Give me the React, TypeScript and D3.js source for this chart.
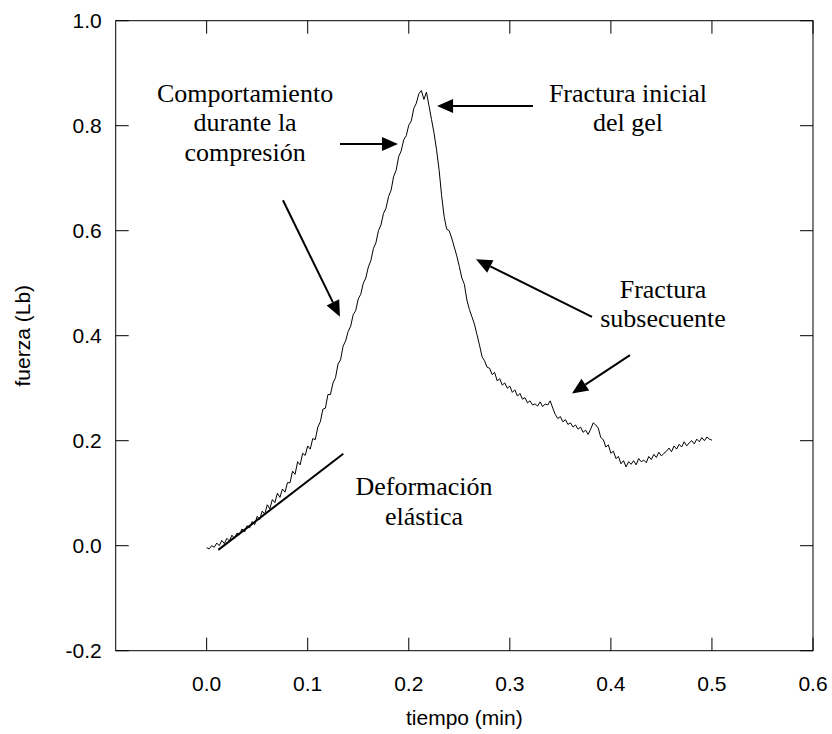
import React from "react";
import * as d3 from "d3";

// sampling grid of the recorded curve (min)
const timeStart = 0;
const timeStep = 0.0025;
// force readings (Lb), one per time step
const force = [
  -0.004, -0.006, 0.000, -0.003, 0.005, 0.000, 0.010, 0.004, 0.014, 0.009,
  0.020, 0.014, 0.024, 0.021, 0.032, 0.026, 0.038, 0.034, 0.046, 0.040,
  0.056, 0.050, 0.066, 0.060, 0.078, 0.070, 0.088, 0.082, 0.100, 0.092,
  0.108, 0.102, 0.120, 0.120, 0.142, 0.136, 0.160, 0.154, 0.176, 0.172,
  0.190, 0.184, 0.204, 0.202, 0.226, 0.236, 0.260, 0.262, 0.288, 0.288,
  0.310, 0.320, 0.346, 0.354, 0.380, 0.390, 0.408, 0.418, 0.440, 0.448,
  0.470, 0.479, 0.500, 0.510, 0.531, 0.543, 0.566, 0.577, 0.600, 0.611,
  0.633, 0.643, 0.665, 0.677, 0.703, 0.715, 0.741, 0.752, 0.773, 0.781,
  0.801, 0.809, 0.833, 0.843, 0.861, 0.867, 0.850, 0.864, 0.838, 0.812,
  0.786, 0.754, 0.716, 0.667, 0.627, 0.603, 0.600, 0.586, 0.569, 0.552,
  0.532, 0.510, 0.498, 0.468, 0.450, 0.436, 0.422, 0.402, 0.382, 0.360,
  0.352, 0.340, 0.338, 0.326, 0.330, 0.314, 0.318, 0.306, 0.310, 0.300,
  0.304, 0.292, 0.297, 0.285, 0.290, 0.279, 0.282, 0.272, 0.276, 0.268,
  0.270, 0.266, 0.274, 0.265, 0.270, 0.268, 0.276, 0.262, 0.250, 0.242,
  0.246, 0.236, 0.240, 0.231, 0.234, 0.226, 0.230, 0.222, 0.226, 0.216,
  0.220, 0.212, 0.222, 0.234, 0.230, 0.224, 0.206, 0.202, 0.188, 0.192,
  0.176, 0.180, 0.166, 0.170, 0.156, 0.162, 0.150, 0.160, 0.155, 0.162,
  0.154, 0.166, 0.160, 0.163, 0.158, 0.170, 0.164, 0.174, 0.168, 0.178,
  0.171, 0.176, 0.180, 0.186, 0.179, 0.190, 0.184, 0.193, 0.188, 0.198,
  0.190, 0.196, 0.200, 0.194, 0.203, 0.198, 0.206, 0.200, 0.207, 0.203,
  0.201,
];

const xTicks = [0.0, 0.1, 0.2, 0.3, 0.4, 0.5, 0.6];
const yTicks = [-0.2, 0.0, 0.2, 0.4, 0.6, 0.8, 1.0];
const xDomain = [-0.09, 0.6];
const yDomain = [-0.2, 1.0];
const xTitle = "tiempo (min)";
const yTitle = "fuerza (Lb)";

// annotations in data coordinates
const arrows = [
  { from: [0.1319, 0.765], to: [0.1893, 0.765] },
  { from: [0.0755, 0.658], to: [0.1319, 0.436] },
  { from: [0.3229, 0.8375], to: [0.228, 0.8375] },
  { from: [0.3813, 0.436], to: [0.2665, 0.5455] },
  { from: [0.4189, 0.363], to: [0.3615, 0.29] },
];
const elasticLine = [
  [0.0115, -0.008],
  [0.1352, 0.175],
];
const labels = [
  { at: [0.038, 0.846], lines: ["Comportamiento", "durante la", "compresión"] },
  { at: [0.4169, 0.846], lines: ["Fractura inicial", "del gel"] },
  { at: [0.4516, 0.472], lines: ["Fractura", "subsecuente"] },
  { at: [0.2151, 0.096], lines: ["Deformación", "elástica"] },
];

const W = 832;
const H = 734;
const M = { left: 115.7, right: 813, top: 20.7, bottom: 650.7 };

export default function App() {
  const x = d3.scaleLinear().domain(xDomain).range([M.left, M.right]);
  const y = d3.scaleLinear().domain(yDomain).range([M.bottom, M.top]);
  const data = force.map((v, i) => [timeStart + i * timeStep, v] as [number, number]);
  const line = d3
    .line<[number, number]>()
    .x((d) => x(d[0]))
    .y((d) => y(d[1]));
  const tickLen = 13;
  const sans = "'Liberation Sans', Arial, sans-serif";
  const serif = "'Liberation Serif', 'Times New Roman', serif";

  const arrowHead = (fx: number, fy: number, tx: number, ty: number) => {
    const ang = Math.atan2(ty - fy, tx - fx);
    const len = 16;
    const hw = 7;
    const bx = tx - len * Math.cos(ang);
    const by = ty - len * Math.sin(ang);
    const px = -Math.sin(ang) * hw;
    const py = Math.cos(ang) * hw;
    return { pts: `${tx},${ty} ${bx + px},${by + py} ${bx - px},${by - py}`, bx, by };
  };

  return (
    <svg
      width={W}
      height={H}
      style={{ position: "absolute", left: 0, top: 0, background: "#fff" }}
    >
      <rect x={0} y={0} width={W} height={H} fill="#fff" />
      {/* frame */}
      <rect
        x={M.left}
        y={M.top}
        width={M.right - M.left}
        height={M.bottom - M.top}
        fill="none"
        stroke="#000"
        strokeWidth={1}
      />
      {/* x ticks */}
      {xTicks.map((t) => (
        <g key={"x" + t}>
          <line x1={x(t)} x2={x(t)} y1={M.bottom} y2={M.bottom - tickLen} stroke="#000" />
          <line x1={x(t)} x2={x(t)} y1={M.top} y2={M.top + tickLen} stroke="#000" />
          <text
            x={x(t)}
            y={M.bottom + 40}
            textAnchor="middle"
            fontFamily={sans}
            fontSize={21}
            fill="#000"
          >
            {d3.format(".1f")(t)}
          </text>
        </g>
      ))}
      {/* y ticks */}
      {yTicks.map((t) => (
        <g key={"y" + t}>
          <line x1={M.left} x2={M.left + tickLen} y1={y(t)} y2={y(t)} stroke="#000" />
          <line x1={M.right} x2={M.right - tickLen} y1={y(t)} y2={y(t)} stroke="#000" />
          <text
            x={M.left - 14}
            y={y(t) + 7.5}
            textAnchor="end"
            fontFamily={sans}
            fontSize={21}
            fill="#000"
          >
            {d3.format(".1f")(t).replace("−", "-")}
          </text>
        </g>
      ))}
      <text
        x={(M.left + M.right) / 2}
        y={H - 9}
        textAnchor="middle"
        fontFamily={sans}
        fontSize={21}
        fill="#000"
      >
        {xTitle}
      </text>
      <text
        transform={`translate(30,${(M.top + M.bottom) / 2}) rotate(-90)`}
        textAnchor="middle"
        fontFamily={sans}
        fontSize={21}
        fill="#000"
      >
        {yTitle}
      </text>
      {/* data curve */}
      <path d={line(data) || ""} fill="none" stroke="#000" strokeWidth={1} />
      {/* elastic tangent */}
      <line
        x1={x(elasticLine[0][0])}
        y1={y(elasticLine[0][1])}
        x2={x(elasticLine[1][0])}
        y2={y(elasticLine[1][1])}
        stroke="#000"
        strokeWidth={2}
      />
      {/* arrows */}
      {arrows.map((a, i) => {
        const fx = x(a.from[0]);
        const fy = y(a.from[1]);
        const tx = x(a.to[0]);
        const ty = y(a.to[1]);
        const h = arrowHead(fx, fy, tx, ty);
        return (
          <g key={"a" + i}>
            <line x1={fx} y1={fy} x2={h.bx} y2={h.by} stroke="#000" strokeWidth={2} />
            <polygon points={h.pts} fill="#000" />
          </g>
        );
      })}
      {/* labels */}
      {labels.map((l, i) => (
        <text
          key={"l" + i}
          x={x(l.at[0])}
          y={y(l.at[1])}
          textAnchor="middle"
          fontFamily={serif}
          fontSize={26}
          fill="#000"
        >
          {l.lines.map((s, j) => (
            <tspan key={j} x={x(l.at[0])} dy={j === 0 ? 0 : 29.5}>
              {s}
            </tspan>
          ))}
        </text>
      ))}
    </svg>
  );
}
